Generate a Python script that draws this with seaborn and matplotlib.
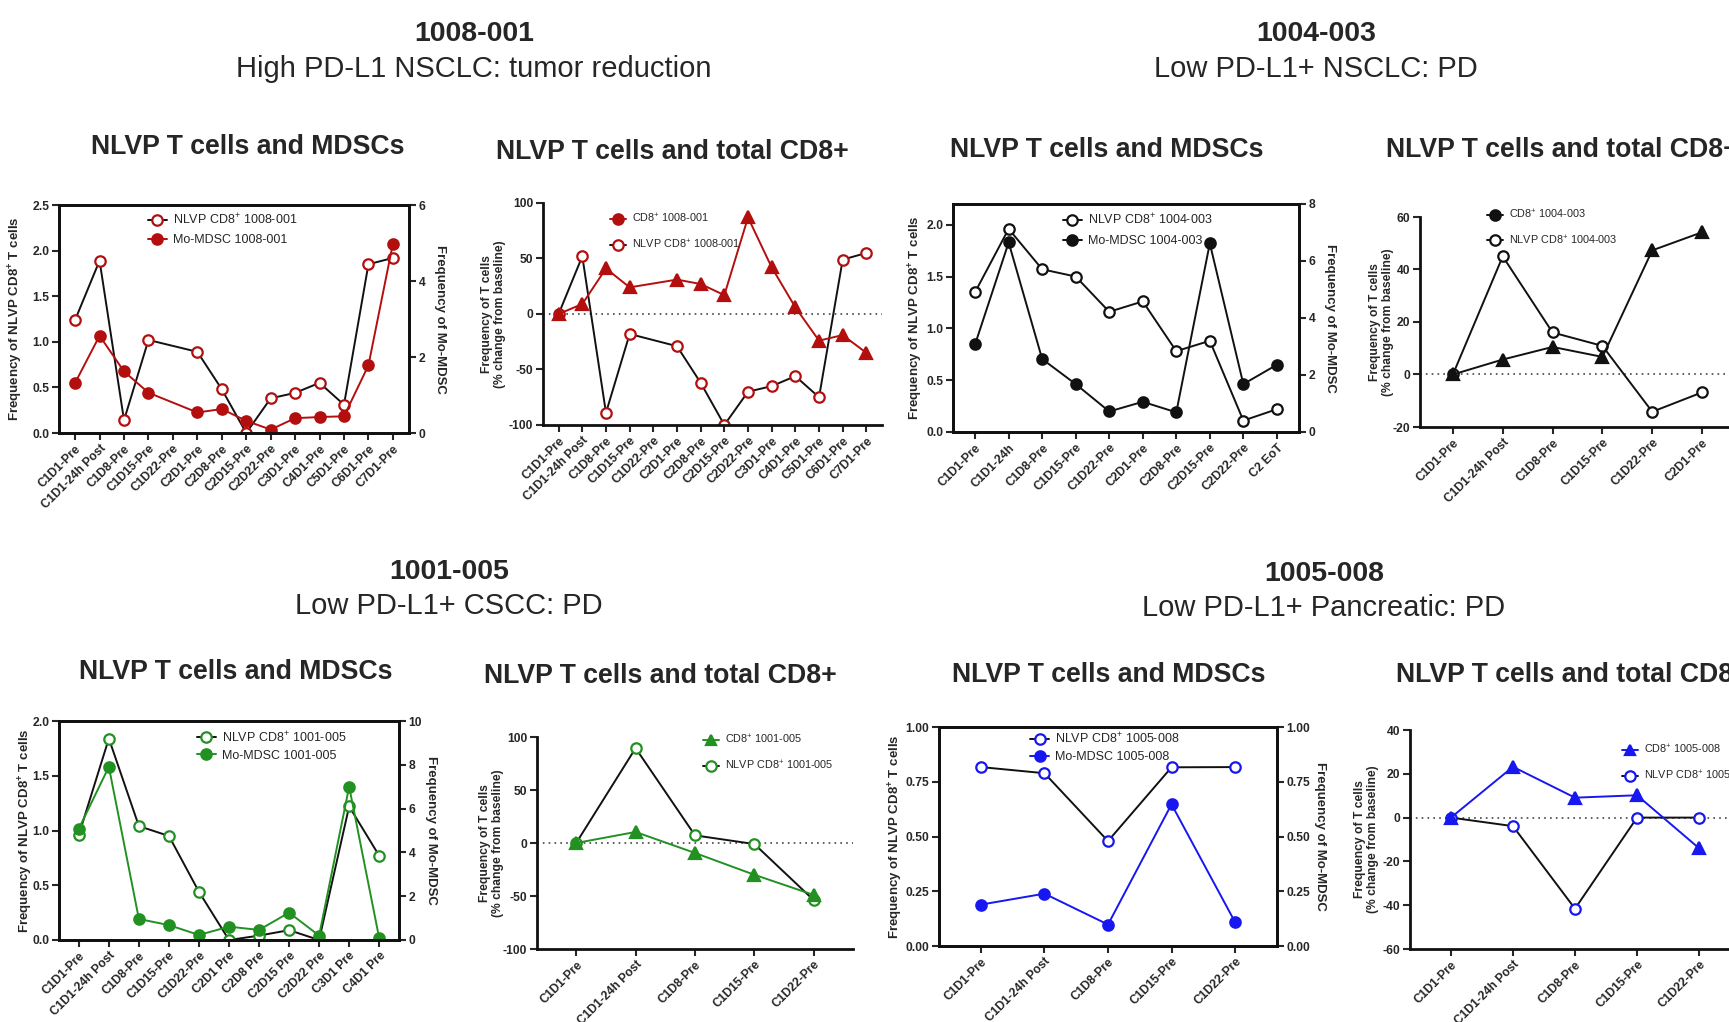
import pandas as pd
import matplotlib
matplotlib.use("Agg")
import matplotlib.pyplot as plt
from matplotlib.lines import Line2D
import seaborn as sns

sns.set_style("ticks")
plt.rcParams["font.family"] = ["Liberation Sans", "DejaVu Sans"]
plt.rcParams["mathtext.fontset"] = "custom"
plt.rcParams["mathtext.rm"] = "Liberation Sans"
plt.rcParams["mathtext.bf"] = "Liberation Sans:bold"

RED = "#b40f0f"
GREEN = "#229122"
BLUE = "#1717f0"
BLACK = "#111111"

NAN = float("nan")

# ---- patient 1008-001 ----
cats_1008 = ["C1D1-Pre", "C1D1-24h Post", "C1D8-Pre", "C1D15-Pre", "C1D22-Pre", "C2D1-Pre",
             "C2D8-Pre", "C2D15-Pre", "C2D22-Pre", "C3D1-Pre", "C4D1-Pre", "C5D1-Pre",
             "C6D1-Pre", "C7D1-Pre"]
nlvp_1008 = [1.24, 1.89, 0.14, 1.02, NAN, 0.89, 0.48, 0.0, 0.38, 0.44, 0.55, 0.31, 1.85, 1.92]
mdsc_1008 = [1.32, 2.56, 1.62, 1.06, NAN, 0.54, 0.63, 0.32, 0.09, 0.39, 0.42, 0.44, 1.78, 4.98]
cd8_pct_1008 = [0, 9, 41, 24, NAN, 31, 27, 17, 87, 42, 6, -24, -19, -35]
nlvp_pct_1008 = [0, 52, -89, -18, NAN, -29, -62, -100, -70, -65, -56, -75, 49, 55]

# ---- patient 1004-003 ----
cats_1004 = ["C1D1-Pre", "C1D1-24h", "C1D8-Pre", "C1D15-Pre", "C1D22-Pre", "C2D1-Pre",
             "C2D8-Pre", "C2D15-Pre", "C2D22-Pre", "C2 EoT"]
nlvp_1004 = [1.35, 1.96, 1.57, 1.50, 1.16, 1.26, 0.78, 0.88, 0.11, 0.22]
mdsc_1004 = [3.08, 6.65, 2.56, 1.68, 0.72, 1.06, 0.69, 6.62, 1.68, 2.36]
cats_1004_pct = ["C1D1-Pre", "C1D1-24h Post", "C1D8-Pre", "C1D15-Pre", "C1D22-Pre", "C2D1-Pre"]
cd8_pct_1004 = [0, 5.7, 10.5, 6.7, 47.3, 54.2]
nlvp_pct_1004 = [0, 45, 16, 10.9, -14.2, -6.8]

# ---- patient 1001-005 ----
cats_1001 = ["C1D1-Pre", "C1D1-24h Post", "C1D8-Pre", "C1D15-Pre", "C1D22-Pre", "C2D1 Pre",
             "C2D8 Pre", "C2D15 Pre", "C2D22 Pre", "C3D1 Pre", "C4D1 Pre"]
nlvp_1001 = [0.96, 1.84, 1.04, 0.95, 0.44, 0.0, 0.04, 0.09, 0.0, 1.22, 0.77]
mdsc_1001 = [5.08, 7.91, 0.96, 0.68, 0.23, 0.61, 0.46, 1.25, 0.20, 7.0, 0.09]
cats_1001_pct = ["C1D1-Pre", "C1D1-24h Post", "C1D8-Pre", "C1D15-Pre", "C1D22-Pre"]
cd8_pct_1001 = [0, 10.4, -9.4, -30, -49]
nlvp_pct_1001 = [0, 89.5, 7.2, -1, -54]

# ---- patient 1005-008 ----
cats_1005 = ["C1D1-Pre", "C1D1-24h Post", "C1D8-Pre", "C1D15-Pre", "C1D22-Pre"]
nlvp_1005 = [0.817, 0.789, 0.479, 0.816, 0.817]
mdsc_1005 = [0.189, 0.239, 0.098, 0.647, 0.109]
cd8_pct_1005 = [0, 23.2, 9.1, 10.2, -14]
nlvp_pct_1005 = [0, -3.9, -41.6, 0, 0]

W, H = 1729, 1022
fig = plt.figure(figsize=(W / 100, H / 100), dpi=100)

YL_NLVP = r"Frequency of NLVP CD8$^{\mathbf{+}}$ T cells"
YL_MDSC = "Frequency of Mo-MDSC"
YL_PCT = "Frequency of T cells\n(% change from baseline)"


def add_ax(x0, y0, x1, y1):
    return fig.add_axes([x0 / W, 1 - y1 / H, (x1 - x0) / W, (y1 - y0) / H])


def style_axis(ax, cats, xfs=8.5, pad=0.66):
    ax.set_xlim(-pad, len(cats) - 1 + pad)
    ax.set_xticks(range(len(cats)))
    ax.set_xticklabels(cats, rotation=45, ha="right", rotation_mode="anchor",
                       fontsize=xfs, fontweight="bold")
    ax.set_xlabel("")
    ax.tick_params(axis="both", direction="out", length=5, width=1.5, labelsize=8.7, pad=2)
    for lab in ax.get_yticklabels():
        lab.set_fontweight("bold")
    for sp in ax.spines.values():
        sp.set_linewidth(2)
        sp.set_color(BLACK)


def draw(ax, vals, line_color, marker, face, edge, ms=7.5):
    df = pd.DataFrame({"x": range(len(vals)), "y": vals})
    sns.lineplot(data=df, x="x", y="y", ax=ax, color=line_color, marker=marker,
                 markerfacecolor=face, markeredgecolor=edge, markersize=ms,
                 markeredgewidth=1.6, linewidth=1.4, errorbar=None)
    ax.set_xlabel("")
    ax.set_ylabel("")


def handle(line_color, marker, face, edge, ms=7.5):
    return Line2D([0], [0], color=line_color, marker=marker, markerfacecolor=face,
                  markeredgecolor=edge, markersize=ms, markeredgewidth=1.6, linewidth=1.4)


def mdsc_panel(rect, cats, nlvp, mdsc, color, ylim, yticks, yfmt, ylim2, yticks2, yfmt2,
               labx, rlabx, leg_xy, leg_sp, patient, title_xy, xfs=8.5):
    ax = add_ax(*rect)
    draw(ax, nlvp, BLACK, "o", "white", color)
    ax.set_ylim(*ylim)
    ax.set_yticks(yticks)
    ax.set_yticklabels([yfmt.format(v) for v in yticks])
    style_axis(ax, cats, xfs=xfs)
    ax.set_ylabel(YL_NLVP, fontsize=9.5, fontweight="bold")
    ax.yaxis.set_label_coords(labx, 0.5)

    ax2 = ax.twinx()
    draw(ax2, mdsc, color, "o", color, color)
    ax2.set_ylim(*ylim2)
    ax2.set_yticks(yticks2)
    ax2.set_yticklabels([yfmt2.format(v) for v in yticks2])
    ax2.tick_params(axis="y", direction="out", length=5, width=1.5, labelsize=8.7, pad=2)
    for lab in ax2.get_yticklabels():
        lab.set_fontweight("bold")
    for sp in ax2.spines.values():
        sp.set_linewidth(2)
        sp.set_color(BLACK)
    ax2.set_ylabel(YL_MDSC, fontsize=9.5, fontweight="bold", rotation=270)
    ax2.yaxis.set_label_coords(rlabx, 0.5)

    hs = [handle(BLACK, "o", "white", color), handle(color, "o", color, color)]
    labs = [r"NLVP CD8$^{+}$ " + patient, "Mo-MDSC " + patient]
    ax2.legend(hs, labs, loc="upper left", bbox_to_anchor=leg_xy, frameon=False,
               borderpad=0, borderaxespad=0, handlelength=1.5, handletextpad=0.5,
               labelspacing=leg_sp, fontsize=9)
    fig.text(title_xy[0] / W, 1 - title_xy[1] / H, "NLVP T cells and MDSCs",
             fontsize=19.2, fontweight="bold", ha="center", va="center")
    return ax


def pct_panel(rect, cats, cd8, nlvp, color, ylim, yticks, labx, leg_xy, leg_marker,
              patient, title_xy, xfs=8.5):
    ax = add_ax(*rect)
    ax.axhline(0, color="#444444", linestyle=(0, (1, 2.5)), linewidth=1.2, zorder=0)
    draw(ax, nlvp, BLACK, "o", "white", color)
    draw(ax, cd8, color, "^", color, color, ms=8)
    ax.set_ylim(*ylim)
    ax.set_yticks(yticks)
    ax.set_yticklabels([str(v) for v in yticks])
    style_axis(ax, cats, xfs=xfs)
    sns.despine(ax=ax)
    ax.set_ylabel(YL_PCT, fontsize=8.7, fontweight="bold", linespacing=1.1)
    ax.yaxis.set_label_coords(labx, 0.5)
    hs = [handle(color, leg_marker, color, color), handle(BLACK, "o", "white", color)]
    labs = [r"CD8$^{+}$ " + patient, r"NLVP CD8$^{+}$ " + patient]
    ax.legend(hs, labs, loc="upper left", bbox_to_anchor=leg_xy, frameon=False,
              borderpad=0, borderaxespad=0, handlelength=1.5, handletextpad=0.5,
              labelspacing=1.15, fontsize=7.8)
    fig.text(title_xy[0] / W, 1 - title_xy[1] / H, "NLVP T cells and total CD8+",
             fontsize=19.2, fontweight="bold", ha="center", va="center")
    return ax


# ---- top-left: 1008-001 ----
mdsc_panel((59, 205, 409, 433), cats_1008, nlvp_1008, mdsc_1008, RED,
           (0, 2.5), [0, 0.5, 1.0, 1.5, 2.0, 2.5], "{:.1f}",
           (0, 6), [0, 2, 4, 6], "{:.0f}",
           -0.097, 1.106, (0.254, 0.97), 0.6, "1008-001", (248, 147))
pct_panel((543, 203, 882, 425), cats_1008, cd8_pct_1008, nlvp_pct_1008, RED,
          (-100, 100), [-100, -50, 0, 50, 100], -0.108, (0.198, 0.96), "o",
          "1008-001", (672, 152))

# ---- top-right: 1004-003 ----
mdsc_panel((953, 204, 1299, 432), cats_1004, nlvp_1004, mdsc_1004, BLACK,
           (0, 2.2), [0, 0.5, 1.0, 1.5, 2.0], "{:.1f}",
           (0, 8), [0, 2, 4, 6, 8], "{:.0f}",
           -0.081, 1.107, (0.318, 0.965), 0.65, "1004-003", (1107, 150))
pct_panel((1420, 217, 1735, 427), cats_1004_pct, cd8_pct_1004, nlvp_pct_1004, BLACK,
          (-20, 60), [-20, 0, 20, 40, 60], -0.082, (0.213, 1.045), "o",
          "1004-003", (1562, 150))

# ---- bottom-left: 1001-005 ----
mdsc_panel((59, 721, 399, 940), cats_1001, nlvp_1001, mdsc_1001, GREEN,
           (0, 2.0), [0, 0.5, 1.0, 1.5, 2.0], "{:.1f}",
           (0, 10), [0, 2, 4, 6, 8, 10], "{:.0f}",
           -0.07, 1.112, (0.406, 0.96), 0.4, "1001-005", (236, 672))
pct_panel((537, 737, 853, 949), cats_1001_pct, cd8_pct_1001, nlvp_pct_1001, GREEN,
          (-100, 100), [-100, -50, 0, 50, 100], -0.106, (0.525, 1.02), "^",
          "1001-005", (660, 676), xfs=7.4)

# ---- bottom-right: 1005-008 ----
mdsc_panel((939, 727, 1277, 946), cats_1005, nlvp_1005, mdsc_1005, BLUE,
           (0, 1.0), [0, 0.25, 0.5, 0.75, 1.0], "{:.2f}",
           (0, 1.0), [0, 0.25, 0.5, 0.75, 1.0], "{:.2f}",
           -0.100, 1.145, (0.27, 0.98), 0.4, "1005-008", (1109, 675), xfs=7.4)
pct_panel((1410, 730, 1740, 949), cats_1005, cd8_pct_1005, nlvp_pct_1005, BLUE,
          (-60, 40), [-60, -40, -20, 0, 20, 40], -0.094, (0.642, 0.94), "^",
          "1005-008", (1572, 675), xfs=7.4)

# ---- patient headers ----
headers = [(474, 34, 69, "1008-001", "High PD-L1 NSCLC: tumor reduction"),
           (1316, 34, 69, "1004-003", "Low PD-L1+ NSCLC: PD"),
           (449, 572, 606, "1001-005", "Low PD-L1+ CSCC: PD"),
           (1324, 574, 608, "1005-008", "Low PD-L1+ Pancreatic: PD")]
for x, y1, y2, pid, desc in headers:
    fig.text(x / W, 1 - y1 / H, pid, fontsize=20.5, fontweight="bold", ha="center", va="center")
    fig.text(x / W, 1 - y2 / H, desc, fontsize=21, ha="center", va="center")

fig.savefig("out.png", dpi=100, facecolor="white")
